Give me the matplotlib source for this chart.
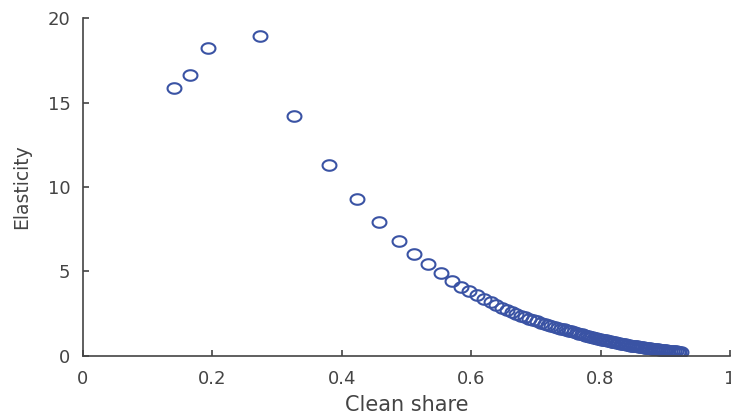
import numpy as np
import matplotlib
matplotlib.use('Agg')
import matplotlib.pyplot as plt
from matplotlib.path import Path

plt.rcParams['font.family'] = ['DejaVu Sans']

# clean share vs elasticity
share = [0.141, 0.165, 0.193, 0.274, 0.326, 0.380, 0.423, 0.457, 0.488, 0.512,
         0.533, 0.553, 0.570, 0.584,
         0.597, 0.609, 0.620, 0.630, 0.639, 0.647, 0.655, 0.663, 0.670, 0.677,
         0.684, 0.690, 0.696, 0.702, 0.708, 0.714, 0.719, 0.724,
         0.729, 0.734, 0.739, 0.743, 0.747, 0.751, 0.755, 0.759, 0.763, 0.767,
         0.771, 0.775, 0.778, 0.781, 0.784, 0.787, 0.790, 0.793, 0.796, 0.799,
         0.802, 0.805, 0.808, 0.811, 0.814, 0.817, 0.820, 0.823, 0.826, 0.829,
         0.832, 0.835, 0.838, 0.841, 0.844, 0.847, 0.850, 0.853, 0.856, 0.859,
         0.862, 0.865, 0.868, 0.871, 0.874, 0.877, 0.880, 0.883, 0.886, 0.889,
         0.892, 0.895, 0.898, 0.901, 0.904, 0.907, 0.910, 0.913, 0.916, 0.919,
         0.922, 0.925]
elasticity = [15.86, 16.63, 18.22, 18.93, 14.2, 11.3, 9.3, 7.93, 6.83, 6.04,
              5.42, 4.92, 4.45, 4.10,
              3.82, 3.58, 3.37, 3.18, 3.00, 2.85, 2.72, 2.60, 2.49, 2.38,
              2.29, 2.21, 2.13, 2.05, 1.97, 1.90, 1.84, 1.78,
              1.72, 1.66, 1.61, 1.57, 1.53, 1.49, 1.45, 1.40, 1.36, 1.32,
              1.28, 1.24, 1.21, 1.17, 1.14, 1.11, 1.08, 1.05, 1.02, 0.99,
              0.97, 0.94, 0.92, 0.89, 0.87, 0.84, 0.82, 0.80, 0.77, 0.75,
              0.73, 0.71, 0.69, 0.66, 0.64, 0.62, 0.60, 0.58, 0.57, 0.55,
              0.53, 0.52, 0.50, 0.49, 0.47, 0.45, 0.44, 0.42, 0.41, 0.39,
              0.38, 0.36, 0.35, 0.34, 0.32, 0.31, 0.30, 0.28, 0.27, 0.25,
              0.24, 0.22]
xticks = [0, 0.2, 0.4, 0.6, 0.8, 1]
xticklabels = ['0', '0.2', '0.4', '0.6', '0.8', '1']
yticks = [0, 5, 10, 15, 20]

gray = '#444444'
blue = '#3a53a4'

# slightly flattened circle, like the stretched markers in the original
t = np.linspace(0, 2 * np.pi, 60)
ellipse = Path(np.column_stack([np.cos(t), 0.76 * np.sin(t)]), closed=True)

fig = plt.figure(figsize=(7.31, 4.17), dpi=100)
ax = fig.add_axes([0.1135, 0.1463, 0.885, 0.8105])

ax.plot(share, elasticity, linestyle='none', marker=ellipse, markersize=10,
        markerfacecolor='none', markeredgecolor=blue, markeredgewidth=1.5)

ax.set_xlim(0, 1)
ax.set_ylim(0, 20)
ax.set_xticks(xticks)
ax.set_xticklabels(xticklabels)
ax.set_yticks(yticks)

for s in ['top', 'right']:
    ax.spines[s].set_visible(False)
for s in ['left', 'bottom']:
    ax.spines[s].set_color(gray)
    ax.spines[s].set_linewidth(1.2)

ax.tick_params(direction='in', length=4, width=1.2, color=gray,
               labelcolor=gray, labelsize=13)
ax.tick_params(axis='x', pad=10)
ax.tick_params(axis='y', pad=9)
ax.set_xlabel('Clean share', fontsize=15, color=gray, labelpad=5)
ax.set_ylabel('Elasticity', fontsize=13.5, color=gray, labelpad=12)

fig.savefig('out.png', dpi=100)
